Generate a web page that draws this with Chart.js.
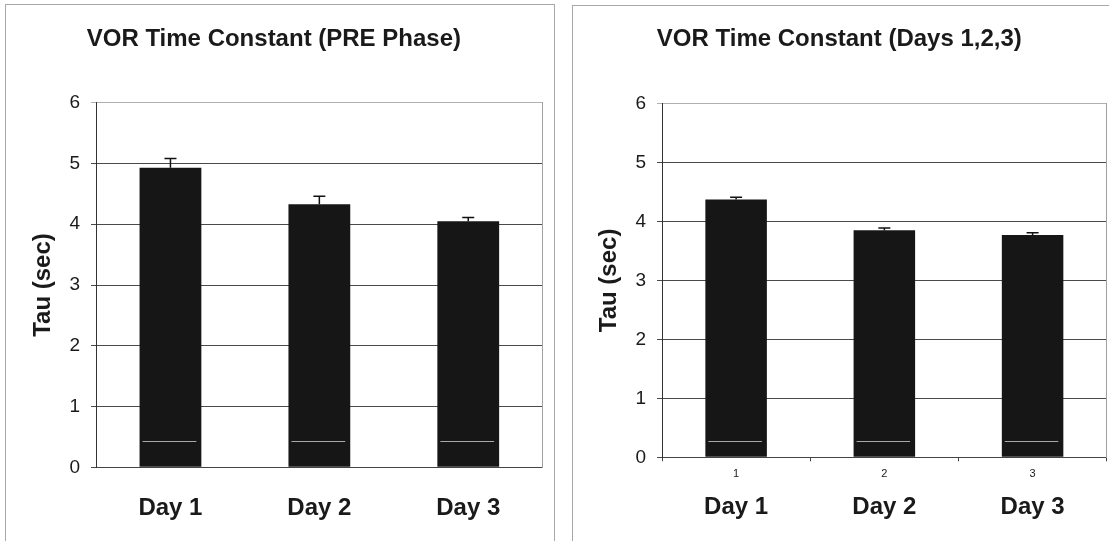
<!DOCTYPE html>
<html>
<head>
<meta charset="utf-8">
<script src="https://cdn.jsdelivr.net/npm/chart.js@4"></script>
<style>
  html, body { margin:0; padding:0; background:#fff; width:1109px; height:541px; overflow:hidden; }
  .frame { position:absolute; border:1px solid #a8a8a8; box-sizing:border-box; }
  .box { position:absolute; }
</style>
</head>
<body>
<div class="frame" style="left:5px;top:4px;width:550px;height:560px;"></div>
<div class="frame" style="left:572px;top:5px;width:600px;height:560px;"></div>
<div class="box" style="left:5px;top:4px;width:550px;height:537px;"><canvas id="c1"></canvas></div>
<div class="box" style="left:572px;top:5px;width:550px;height:536px;"><canvas id="c2"></canvas></div>
<script>
// ---- data ----
const dayLabels = ['Day 1', 'Day 2', 'Day 3'];
const tickNumbers = ['1', '2', '3'];
const yTicks = [0, 1, 2, 3, 4, 5, 6];

const preTitle = 'VOR Time Constant (PRE Phase)';
const preTau = [4.93, 4.33, 4.05];
const preErr = [0.15, 0.13, 0.06];
const preStreak = 0.43;

const daysTitle = 'VOR Time Constant (Days 1,2,3)';
const daysTau = [4.37, 3.85, 3.77];
const daysErr = [0.04, 0.04, 0.04];
const daysStreak = 0.275;

const FONT = 'Liberation Sans, Arial, Helvetica, sans-serif';
const TXT = '#1a1a1a';

const errorBarPlugin = {
  id: 'errorBars',
  afterDatasetsDraw(chart, args, opts) {
    const ctx = chart.ctx;
    const y = chart.scales.y;
    const ds = chart.data.datasets[0];
    const meta = chart.getDatasetMeta(0);
    ctx.save();
    meta.data.forEach((bar, i) => {
      // scanning streak inside bar
      if (opts.streak != null) {
        const sy = Math.round(y.getPixelForValue(opts.streak)) + 0.5;
        ctx.strokeStyle = 'rgba(185,185,185,0.9)';
        ctx.lineWidth = 1;
        ctx.beginPath();
        ctx.moveTo(bar.x - bar.width / 2 + 3, sy);
        ctx.lineTo(bar.x + bar.width / 2 - 5, sy);
        ctx.stroke();
      }
      const v = ds.data[i];
      const e = opts.errors[i];
      const top = y.getPixelForValue(v + e);
      const base = y.getPixelForValue(v);
      ctx.strokeStyle = '#111';
      ctx.lineWidth = 1.5;
      ctx.beginPath();
      ctx.moveTo(bar.x, base);
      ctx.lineTo(bar.x, top);
      ctx.moveTo(bar.x - 6, top);
      ctx.lineTo(bar.x + 6, top);
      ctx.stroke();
    });
    ctx.restore();
  }
};

function yAxis(width, titlePad) {
  return {
    type: 'linear',
    position: 'left',
    min: 0, max: 6,
    afterBuildTicks(s) { s.ticks = yTicks.map(v => ({ value: v })); },
    afterFit(s) { s.width = width; },
    ticks: { font: { family: FONT, size: 19 }, color: TXT, padding: 11 },
    grid: {
      color: c => (c.tick && c.tick.value === 6) ? '#b0b0b0' : '#4a4a4a',
      lineWidth: 1,
      drawTicks: true,
      tickLength: 5
    },
    border: { display: true, color: '#333', width: 1 },
    title: {
      display: true, text: 'Tau (sec)', color: TXT,
      font: { family: FONT, size: 24, weight: 'bold' },
      padding: { top: titlePad, bottom: 0 }
    }
  };
}

function rightBorderAxis() {
  return {
    type: 'linear', position: 'right', min: 0, max: 6,
    afterFit(s) { s.width = 0; },
    ticks: { display: false },
    grid: { display: false, drawTicks: false },
    border: { display: true, color: '#a0a0a0', width: 1 }
  };
}

function titleOpts(text, top, bottom) {
  return {
    display: true, text, color: TXT,
    font: { family: FONT, size: 24, weight: 'bold' },
    padding: { top, bottom }
  };
}

// ---- left chart ----
new Chart(document.getElementById('c1'), {
  type: 'bar',
  data: {
    labels: dayLabels,
    datasets: [{ data: preTau, backgroundColor: '#161616', borderWidth: 0,
      categoryPercentage: 1, barPercentage: 0.415 }]
  },
  options: {
    responsive: true, maintainAspectRatio: false, animation: false,
    layout: { padding: { left: 0, right: 12.3, top: 0, bottom: 0 } },
    plugins: {
      legend: { display: false }, tooltip: { enabled: false },
      title: titleOpts(preTitle, 20.8, 49.1),
      errorBars: { errors: preErr, streak: preStreak }
    },
    scales: {
      x: {
        type: 'category', position: 'bottom',
        afterFit(s) { s.height = 73.7; },
        ticks: { font: { family: FONT, size: 24, weight: 'bold' }, color: TXT, padding: 26.5 },
        grid: { display: false, drawTicks: false },
        border: { display: true, color: '#444', width: 1 }
      },
      y: yAxis(91, 23.6),
      y2: rightBorderAxis()
    }
  },
  plugins: [errorBarPlugin]
});

// ---- right chart ----
new Chart(document.getElementById('c2'), {
  type: 'bar',
  data: {
    labels: tickNumbers,
    datasets: [{ data: daysTau, backgroundColor: '#161616', borderWidth: 0,
      categoryPercentage: 1, barPercentage: 0.415 }]
  },
  options: {
    responsive: true, maintainAspectRatio: false, animation: false,
    layout: { padding: { left: 0, right: 15.3, top: 0, bottom: 0 } },
    plugins: {
      legend: { display: false }, tooltip: { enabled: false },
      title: titleOpts(daysTitle, 19.6, 50.1),
      errorBars: { errors: daysErr, streak: daysStreak }
    },
    scales: {
      x: {
        type: 'category', position: 'bottom',
        afterFit(s) { s.height = 30; },
        ticks: { font: { family: FONT, size: 11 }, color: TXT, padding: 5.8 },
        grid: { display: true, drawOnChartArea: false, drawTicks: true, tickLength: 4,
          offset: true, color: '#444' },
        border: { display: true, color: '#444', width: 1 }
      },
      x2: {
        type: 'category', position: 'bottom', labels: dayLabels, offset: true,
        afterFit(s) { s.height = 53.7; },
        ticks: { font: { family: FONT, size: 24, weight: 'bold' }, color: TXT, padding: 5.8 },
        grid: { display: false, drawTicks: false },
        border: { display: false }
      },
      y: yAxis(90, 22.6),
      y2: rightBorderAxis()
    }
  },
  plugins: [errorBarPlugin]
});
</script>
</body>
</html>
